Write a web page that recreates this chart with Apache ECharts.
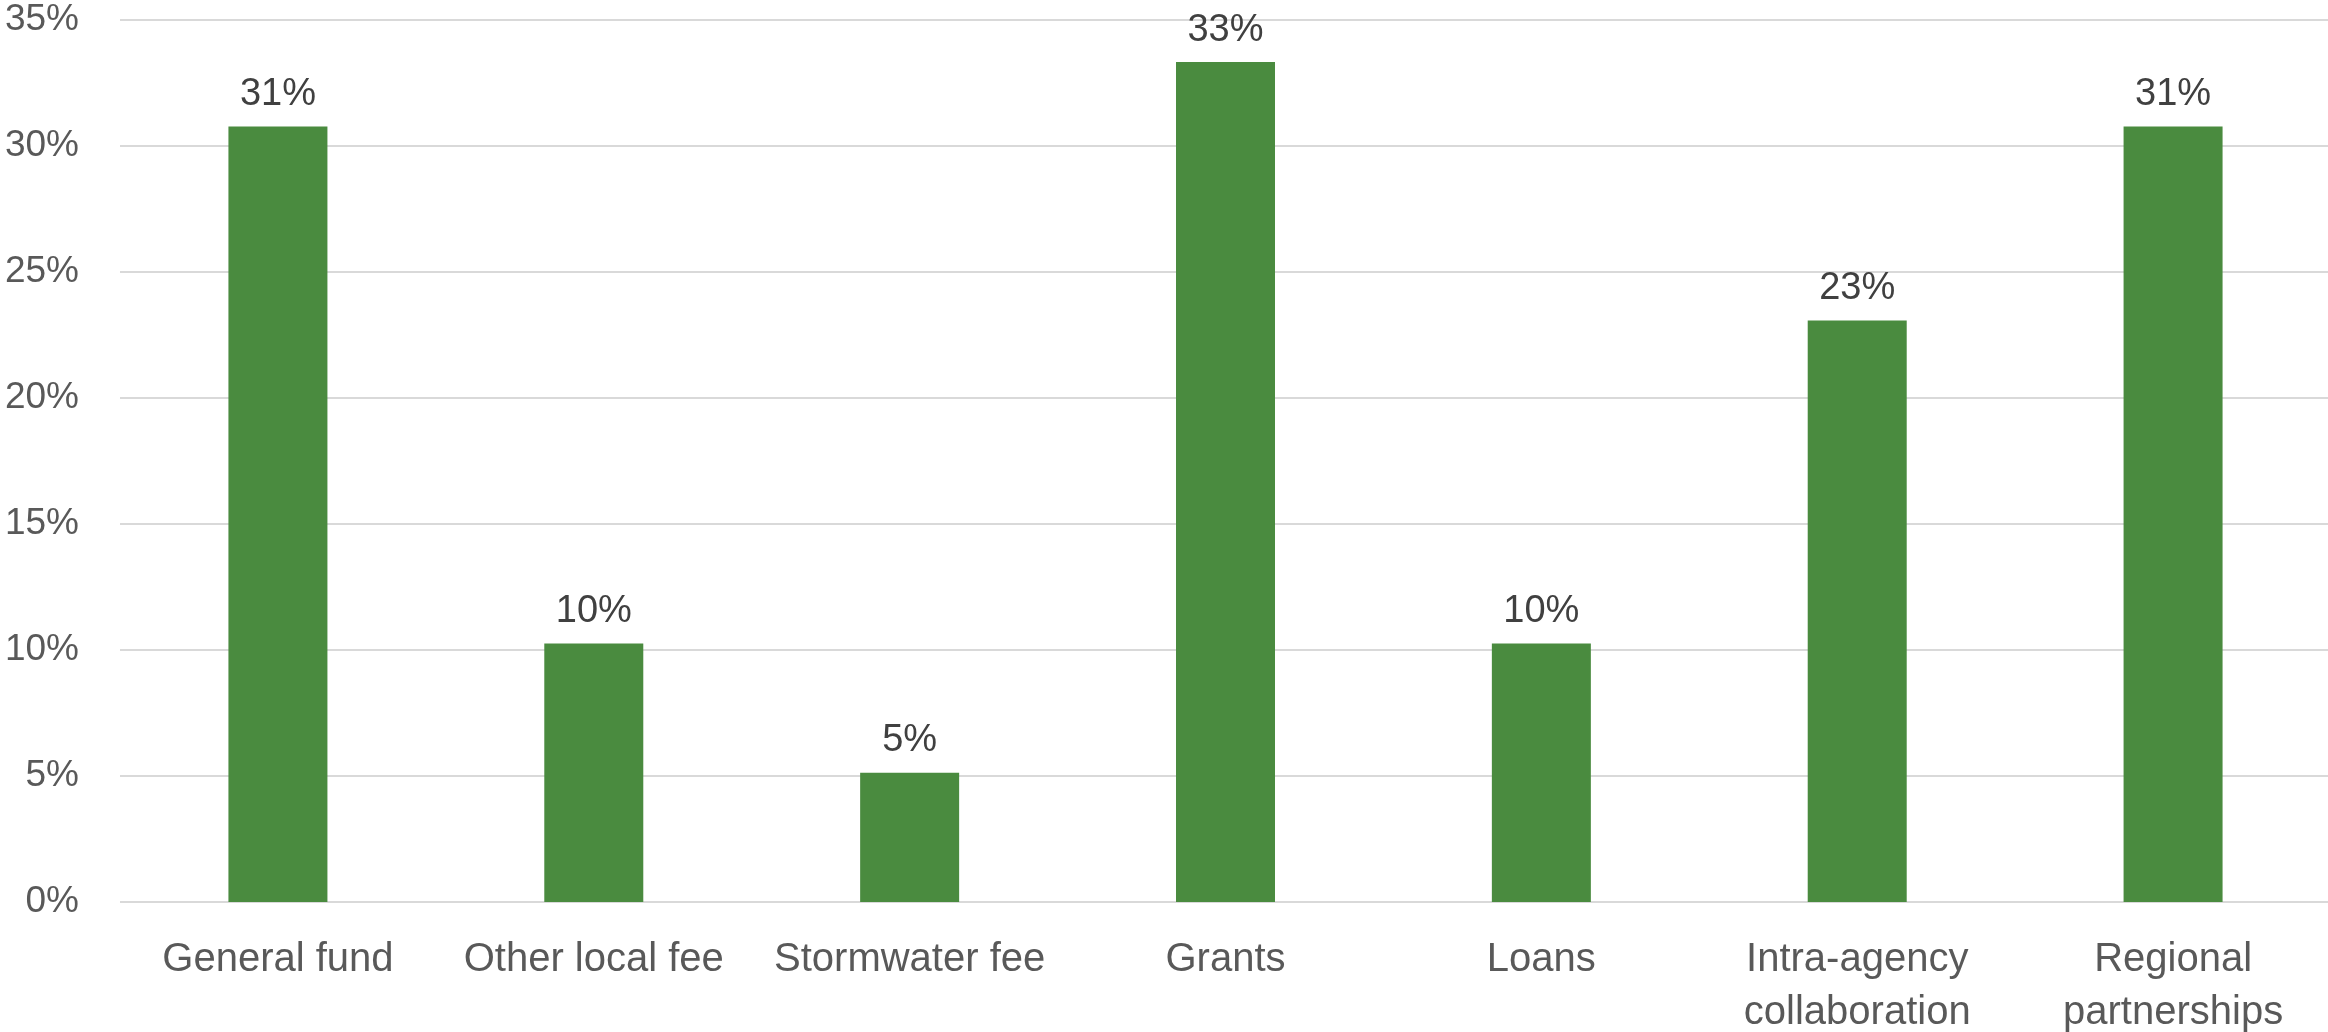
<!DOCTYPE html>
<html>
<head>
<meta charset="utf-8">
<script src="https://cdn.jsdelivr.net/npm/echarts@6/dist/echarts.min.js"></script>
<style>
  html, body { margin: 0; padding: 0; background: #fff; }
  #chart { width: 2328px; height: 1032px; }
</style>
</head>
<body>
<div id="chart"></div>
<script>
// funding sources share (%)
const categories = [
  "General fund", "Other local fee", "Stormwater fee", "Grants",
  "Loans", "Intra-agency\ncollaboration", "Regional\npartnerships"
];
const shares = [30.77, 10.26, 5.13, 33.33, 10.26, 23.08, 30.77];
const yTicks = { min: 0, max: 35, step: 5 };

const font = "'Liberation Sans', Arial, sans-serif";
const chart = echarts.init(document.getElementById("chart"), null, { renderer: "canvas" });

chart.setOption({
  animation: false,
  backgroundColor: "#fff",
  grid: { top: 20, bottom: 130, left: 120, right: -3, outerBoundsMode: "none", containLabel: false },
  xAxis: {
    type: "category",
    data: categories,
    axisLine: { show: false },
    axisTick: { show: false },
    axisLabel: {
      color: "#595959", fontFamily: font, fontSize: 40,
      lineHeight: 53, margin: 31, interval: 0,
    },
  },
  yAxis: {
    type: "value",
    min: yTicks.min, max: yTicks.max, interval: yTicks.step,
    axisLine: { show: false },
    axisTick: { show: false },
    splitLine: { lineStyle: { color: "#d9d9d9", width: 2 } },
    axisLabel: {
      color: "#595959", fontFamily: font, fontSize: 37, margin: 41,
      padding: [14, 0, 0, 0],
      formatter: "{value}%",
    },
  },
  series: [{
    type: "bar",
    data: shares,
    barWidth: 99,
    itemStyle: { color: "#4a8b3f" },
    label: {
      show: true, position: "top", distance: 13,
      color: "#404040", fontFamily: font, fontSize: 38,
      formatter: (p) => Math.round(p.value) + "%",
    },
  }],
});
</script>
</body>
</html>
